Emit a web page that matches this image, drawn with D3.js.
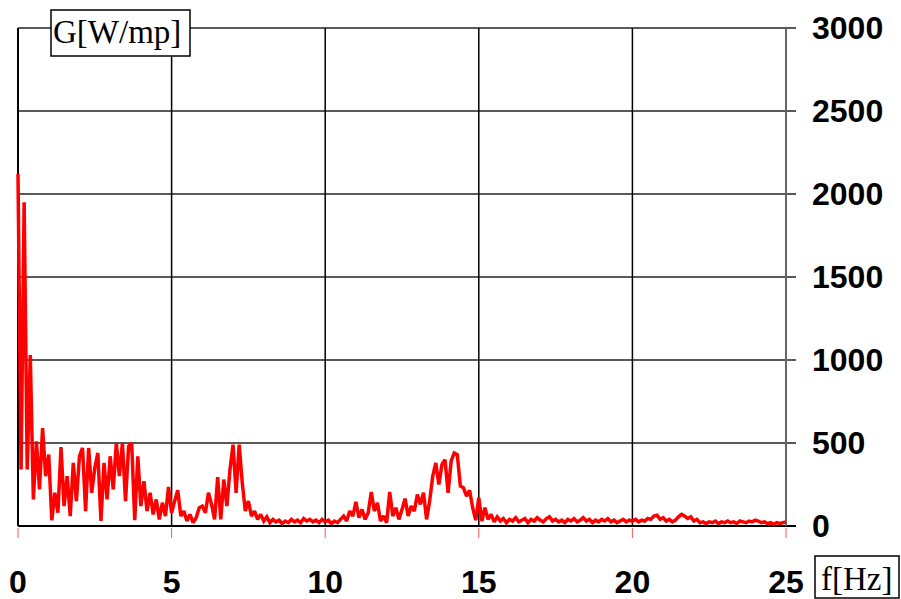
<!DOCTYPE html>
<html>
<head>
<meta charset="utf-8">
<script src="https://cdn.jsdelivr.net/npm/d3@7"></script>
<style>
  body { margin: 0; background: #fff; }
  svg { display: block; }
</style>
</head>
<body>
<div id="viz-container"></div>
<script>
// spectrum G [W/mp] sampled every 0.1 Hz, 0 .. 25 Hz
let freqStep = 0.1;

let power0to5 = [2120, 340, 1950, 340, 1030, 160, 510, 220, 590, 300,
  430, 35, 200, 80, 475, 120, 300, 60, 380, 150,
  420, 470, 90, 470, 200, 350, 440, 30, 380, 160,
  420, 220, 500, 300, 500, 150, 480, 500, 35, 420,
  120, 270, 90, 200, 70, 160, 40, 140, 60, 235];

let power5to10 = [80, 150, 215, 60, 90, 30, 70, 20, 50, 110,
  120, 80, 200, 130, 40, 295, 40, 280, 120, 340,
  490, 200, 490, 260, 90, 150, 60, 90, 40, 70,
  30, 55, 20, 40, 25, 35, 15, 30, 20, 40,
  25, 35, 20, 45, 30, 40, 25, 35, 20, 40];

let power10to15 = [25, 35, 15, 30, 20, 40, 60, 30, 90, 60,
  145, 50, 100, 40, 80, 205, 90, 140, 30, 60,
  20, 205, 60, 110, 40, 100, 165, 60, 120, 90,
  190, 130, 200, 40, 150, 300, 380, 250, 370, 400,
  200, 390, 440, 430, 240, 230, 180, 215, 110, 35];

let power15to20 = [170, 30, 110, 40, 70, 25, 55, 30, 45, 20,
  40, 30, 50, 25, 35, 45, 20, 40, 30, 50,
  35, 25, 45, 55, 30, 40, 25, 35, 20, 40,
  30, 45, 25, 35, 50, 30, 40, 20, 35, 25,
  40, 30, 45, 25, 35, 20, 30, 40, 25, 35];

let power20to25 = [30, 40, 25, 35, 30, 45, 40, 60, 65, 40,
  50, 30, 40, 25, 35, 55, 70, 60, 45, 55,
  30, 40, 20, 25, 15, 25, 20, 30, 15, 25,
  20, 30, 20, 25, 15, 30, 25, 20, 30, 25,
  35, 30, 20, 25, 15, 20, 10, 20, 15, 20, 25];

let xTicks = [0, 5, 10, 15, 20, 25];
let yTicks = [0, 500, 1000, 1500, 2000, 2500, 3000];
let yTitle = "G[W/mp]";
let xTitle = "f[Hz]";

let power = power0to5.concat(power5to10, power10to15, power15to20, power20to25);
let data = power.map((v, i) => ({ f: i * freqStep, g: v }));

let W = 901, H = 599;
let plotLeft = 18, plotRight = 786, plotTop = 28, plotBottom = 526;

let viz = d3.select("#viz-container")
  .append("svg")
    .attr("width", W)
    .attr("height", H);

let x = d3.scaleLinear().domain([0, 25]).range([plotLeft, plotRight]);
let y = d3.scaleLinear().domain([0, 3000]).range([plotBottom, plotTop]);

// horizontal grid, running a bit past the right edge
viz.append("g").selectAll("line").data(yTicks).enter()
  .append("line")
    .attr("x1", plotLeft).attr("x2", plotRight + 10)
    .attr("y1", d => y(d)).attr("y2", d => y(d))
    .attr("stroke", d => d === 0 ? "#000" : "#222")
    .attr("stroke-width", d => d === 0 ? 2 : 1.5);

// vertical grid
viz.append("g").selectAll("line").data(xTicks).enter()
  .append("line")
    .attr("x1", d => x(d)).attr("x2", d => x(d))
    .attr("y1", plotTop).attr("y2", plotBottom)
    .attr("stroke", d => d === 25 ? "#666" : "#000")
    .attr("stroke-width", d => (d === 0 || d === 25) ? 2 : 1.5);

// small red ticks under the x axis
viz.append("g").selectAll("line").data(xTicks).enter()
  .append("line")
    .attr("x1", d => x(d)).attr("x2", d => x(d))
    .attr("y1", plotBottom + 2).attr("y2", plotBottom + 12)
    .attr("stroke", "#f55")
    .attr("stroke-width", 1);

// the spectrum
let line = d3.line()
  .x(d => x(d.f))
  .y(d => y(d.g));

viz.append("path")
  .datum(data)
    .attr("d", line)
    .attr("fill", "none")
    .attr("stroke", "#ff0000")
    .attr("stroke-width", 3.5)
    .attr("stroke-linejoin", "miter")
    .attr("stroke-miterlimit", 2);

// tick labels
viz.append("g").selectAll("text").data(yTicks).enter()
  .append("text")
    .attr("x", 812)
    .attr("y", d => y(d) + 11)
    .attr("font-family", "Liberation Sans, Arial, sans-serif")
    .attr("font-weight", "bold")
    .attr("font-size", 32)
    .text(d => d);

viz.append("g").selectAll("text").data(xTicks).enter()
  .append("text")
    .attr("x", d => x(d))
    .attr("y", 593)
    .attr("text-anchor", "middle")
    .attr("font-family", "Liberation Sans, Arial, sans-serif")
    .attr("font-weight", "bold")
    .attr("font-size", 32)
    .text(d => d);

// axis titles in boxes
function titleBox(bx, by, bw, bh, tx, ty, label){
  viz.append("rect")
    .attr("x", bx).attr("y", by)
    .attr("width", bw).attr("height", bh)
    .attr("fill", "#fff")
    .attr("stroke", "#000")
    .attr("stroke-width", 1.5);
  viz.append("text")
    .attr("x", tx).attr("y", ty)
    .attr("font-family", "Liberation Serif, Times New Roman, serif")
    .attr("font-size", 33)
    .text(label);
}

titleBox(51, 10, 139, 46, 53, 43, yTitle);
titleBox(815, 556, 84, 42, 821, 590, xTitle);
</script>
</body>
</html>
